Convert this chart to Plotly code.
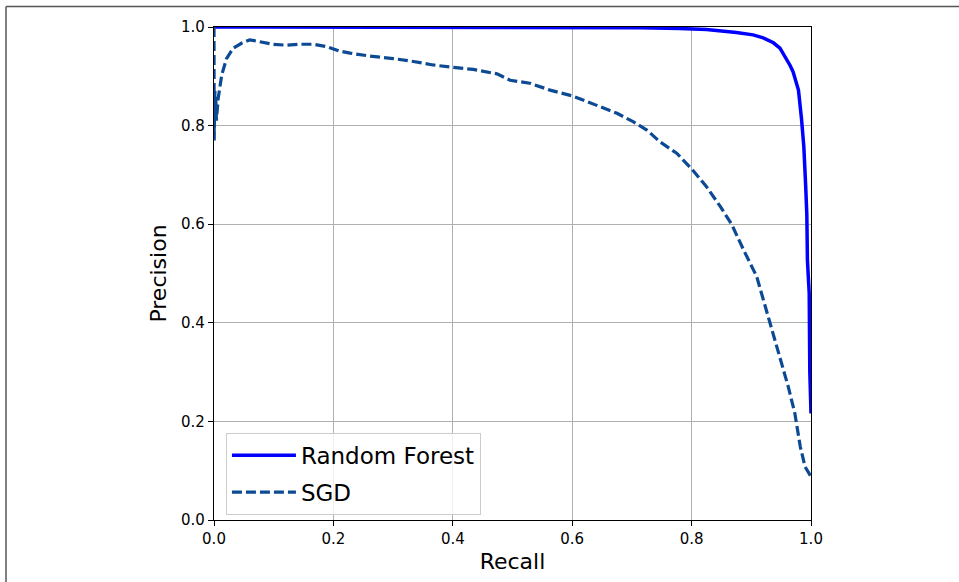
import plotly.graph_objects as go

# Random Forest precision/recall curve
rf_recall = [0.0, 0.3, 0.45, 0.55, 0.65, 0.714, 0.78, 0.825, 0.875, 0.903, 0.92, 0.937,
             0.948, 0.959, 0.965, 0.970, 0.975, 0.979, 0.984, 0.988, 0.991, 0.993,
             0.994, 0.997, 0.998, 1.0]
rf_precision = [1.0, 1.0, 1.0, 0.9993, 0.999, 0.9986, 0.997, 0.995, 0.989, 0.984, 0.978, 0.968,
                0.957, 0.936, 0.922, 0.909, 0.89, 0.872, 0.815, 0.757, 0.68, 0.62,
                0.527, 0.46, 0.30, 0.216]

# SGD precision/recall curve
sgd_recall = [0.0, 0.0003, 0.0006, 0.001, 0.0015, 0.002, 0.003, 0.004, 0.007, 0.013,
              0.021, 0.032, 0.046, 0.060, 0.077, 0.099, 0.122, 0.144, 0.166, 0.189,
              0.211, 0.228, 0.261, 0.300, 0.334, 0.367, 0.401, 0.434, 0.474, 0.496,
              0.529, 0.563, 0.601, 0.630, 0.647, 0.675, 0.702, 0.725, 0.747, 0.775,
              0.801, 0.825, 0.848, 0.867, 0.887, 0.909, 0.931, 0.948, 0.962, 0.973,
              0.982, 0.990, 0.9995]
sgd_precision = [1.0, 0.77, 0.84, 0.80, 0.87, 0.82, 0.86, 0.81, 0.855, 0.903,
                 0.936, 0.957, 0.967, 0.974, 0.970, 0.965, 0.963, 0.965, 0.965, 0.960,
                 0.951, 0.947, 0.941, 0.936, 0.930, 0.923, 0.918, 0.914, 0.905, 0.892,
                 0.886, 0.872, 0.860, 0.846, 0.838, 0.825, 0.808, 0.791, 0.767, 0.744,
                 0.711, 0.676, 0.636, 0.600, 0.548, 0.494, 0.401, 0.331, 0.270, 0.216,
                 0.149, 0.108, 0.089]

tick_vals = [0.0, 0.2, 0.4, 0.6, 0.8, 1.0]
tick_text = ["0.0", "0.2", "0.4", "0.6", "0.8", "1.0"]

FONT = "DejaVu Sans"

fig = go.Figure()
fig.add_trace(go.Scatter(x=rf_recall, y=rf_precision, mode="lines", name="Random Forest",
                         legendgroup="rf",
                         line=dict(color="#0000ff", width=3.5)))
fig.add_trace(go.Scatter(x=sgd_recall, y=sgd_precision, mode="lines", name="SGD",
                         legendgroup="sgd",
                         line=dict(color="#0d4a94", width=3.2, dash="10px,4px")))

axis_common = dict(
    range=[0, 1], tickvals=tick_vals, ticktext=tick_text,
    showgrid=True, gridcolor="#b0b0b0", gridwidth=1,
    showline=True, linecolor="black", linewidth=1.3, mirror=True,
    ticks="outside", ticklen=5, tickwidth=1.2, tickcolor="black",
    tickfont=dict(family=FONT, size=15, color="black"),
    zeroline=False, fixedrange=True,
)

fig.update_layout(
    width=959, height=582,
    margin=dict(l=214, r=148, t=27, b=62),
    paper_bgcolor="white", plot_bgcolor="white",
    font=dict(family=FONT, color="black"),
    xaxis=dict(**axis_common, title=dict(text="Recall", font=dict(family=FONT, size=22), standoff=6)),
    yaxis=dict(**axis_common, title=dict(text="Precision", font=dict(family=FONT, size=22), standoff=8)),
    legend=dict(x=0.02, y=0.177, xanchor="left", yanchor="top",
                bgcolor="rgba(255,255,255,0.8)", bordercolor="#cccccc", borderwidth=1,
                font=dict(family=FONT, size=23, color="black"),
                traceorder="grouped", tracegroupgap=4, itemwidth=64),
    showlegend=True,
    shapes=[
        dict(type="line", xref="paper", yref="paper", x0=-0.3484, x1=1.25, y0=1.0416, y1=1.0416,
             line=dict(color="#555555", width=1.5)),
        dict(type="line", xref="paper", yref="paper", x0=-0.3484, x1=-0.3484, y0=1.0416, y1=-0.13,
             line=dict(color="#555555", width=1.5)),
    ],
)

fig.write_html("out.html", config={"displayModeBar": False},
               post_script="document.body.style.margin='0';document.body.style.overflow='hidden';")
